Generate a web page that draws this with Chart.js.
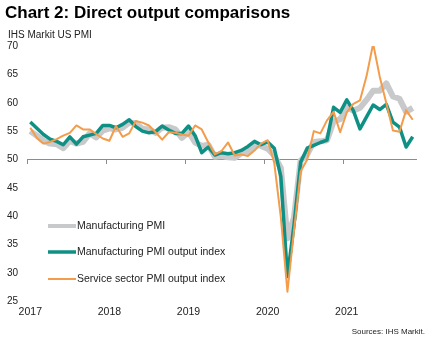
<!DOCTYPE html>
<html>
<head>
<meta charset="utf-8">
<script src="https://cdn.jsdelivr.net/npm/chart.js@4.4.1/dist/chart.umd.min.js"></script>
<style>
  html, body { margin: 0; padding: 0; background: #fff; }
  #wrap { position: relative; width: 436px; height: 342px; }
</style>
</head>
<body>
<div id="wrap"><canvas id="chart" width="436" height="342"></canvas></div>
<script>
// chart texts
var chartTitle = 'Chart 2: Direct output comparisons';
var unitLabel = 'IHS Markit US PMI';
var sourceText = 'Sources: IHS Markit.';

// monthly categories, Jan 2017 - Nov 2021
var years = ['2017', '2018', '2019', '2020', '2021'];
var monthNames = ['Jan', 'Feb', 'Mar', 'Apr', 'May', 'Jun', 'Jul', 'Aug', 'Sep', 'Oct', 'Nov', 'Dec'];
var months = [];
years.forEach(function (y) {
    monthNames.forEach(function (m) { months.push(m + ' ' + y); });
});
months = months.slice(0, 59);

var seriesNames = ['Manufacturing PMI', 'Manufacturing PMI output index', 'Service sector PMI output index'];

var mfgPmi = [
    55.0, 54.2, 53.3, 52.8, 52.7, 52.0, 53.3, 52.8, 53.1, 54.6, 53.9, 55.1,
    55.5, 55.3, 55.6, 56.5, 56.4, 55.4, 55.3, 54.7, 55.6, 55.7, 55.3, 53.8,
    54.9, 53.0, 52.4, 52.6, 50.5, 50.6, 50.4, 50.3, 51.1, 51.3, 52.6, 52.4,
    51.9, 50.7, 48.5, 36.1, 39.8, 49.8, 50.9, 53.1, 53.2, 53.4, 56.7, 57.1,
    59.2, 58.6, 59.1, 60.5, 62.1, 62.1, 63.4, 61.1, 60.7, 58.4, 59.1
];
var mfgOutput = [
    56.6, 55.5, 54.4, 53.6, 53.2, 52.6, 54.0, 52.7, 54.0, 54.3, 54.6, 56.0,
    56.0, 55.6, 56.2, 57.0, 55.8, 55.0, 54.7, 54.9, 55.9, 55.2, 54.6, 54.6,
    55.9, 54.2, 51.2, 52.2, 50.8, 51.2, 51.0, 51.2, 51.6, 52.3, 53.2, 52.6,
    53.1, 52.0, 47.0, 29.4, 38.5, 49.5, 52.0, 52.5, 53.0, 53.4, 59.2, 58.3,
    60.5, 58.6, 55.4, 57.5, 59.6, 58.8, 59.7, 56.6, 55.7, 52.2, 54.0
];
var servicesOutput = [
    55.6, 53.8, 52.8, 53.1, 53.6, 54.2, 54.7, 56.0, 55.3, 55.3, 54.5, 53.7,
    53.3, 55.9, 54.0, 54.6, 56.8, 56.5, 56.0, 54.8, 53.5, 54.8, 54.7, 54.4,
    54.2, 56.0, 55.3, 53.0, 50.9, 51.5, 53.0, 50.7, 50.9, 50.6, 51.6, 52.8,
    53.4, 49.4, 39.8, 26.7, 37.5, 47.9, 50.0, 55.0, 54.6, 56.9, 58.4, 54.8,
    58.3, 59.8, 60.4, 64.7, 70.4, 64.6, 59.9, 55.1, 54.9, 58.7, 57.0
];

var FONT = '"Liberation Sans", Arial, sans-serif';

// title, unit label, sources and the legend inside the plot
var textPlugin = {
    id: 'texts',
    afterDraw: function (chart) {
        var ctx = chart.ctx;
        ctx.save();
        ctx.textBaseline = 'alphabetic';
        ctx.fillStyle = '#000';
        ctx.font = 'bold 17px ' + FONT;
        ctx.fillText(chartTitle, 5, 18);
        ctx.fillStyle = '#222';
        ctx.font = '10px ' + FONT;
        ctx.fillText(unitLabel, 8, 38);
        ctx.textAlign = 'right';
        ctx.font = '8px ' + FONT;
        ctx.fillText(sourceText, 425, 334);

        ctx.textAlign = 'left';
        ctx.textBaseline = 'middle';
        ctx.font = '10.5px ' + FONT;
        var legendY = [226, 252, 279];
        chart.data.datasets.forEach(function (ds, i) {
            var y = legendY[i];
            ctx.strokeStyle = ds.borderColor;
            ctx.lineWidth = Math.min(ds.borderWidth, 4);
            ctx.lineCap = 'butt';
            ctx.beginPath();
            ctx.moveTo(48, y);
            ctx.lineTo(76, y);
            ctx.stroke();
            ctx.fillStyle = '#222';
            ctx.fillText(ds.label, 77, y);
        });
        ctx.restore();
    }
};

var chart = new Chart(document.getElementById('chart'), {
    type: 'line',
    plugins: [textPlugin],
    data: {
        labels: months,
        datasets: [{
            label: seriesNames[0],
            data: mfgPmi,
            borderColor: '#c8c9cb',
            borderWidth: 6,
            order: 3
        }, {
            label: seriesNames[1],
            data: mfgOutput,
            borderColor: '#0f9084',
            borderWidth: 3.5,
            order: 2
        }, {
            label: seriesNames[2],
            data: servicesOutput,
            borderColor: '#f39c4b',
            borderWidth: 2,
            order: 1
        }]
    },
    options: {
        responsive: false,
        animation: false,
        layout: { padding: { top: 46, left: 7, right: 20, bottom: 20 } },
        elements: {
            line: { tension: 0, borderJoinStyle: 'round', borderCapStyle: 'butt' },
            point: { radius: 0 }
        },
        plugins: {
            legend: { display: false },
            tooltip: { enabled: false }
        },
        scales: {
            x: {
                type: 'category',
                position: { y: 50 },
                offset: true,
                ticks: { display: false },
                border: { display: true, color: '#8c8c8c', width: 1 },
                grid: {
                    offset: true,
                    drawOnChartArea: false,
                    drawTicks: true,
                    tickLength: 4,
                    lineWidth: 1,
                    color: function (c) { return c.index % 12 === 0 ? '#8c8c8c' : 'rgba(0,0,0,0)'; }
                }
            },
            x2: {
                type: 'category',
                position: 'bottom',
                offset: true,
                border: { display: false },
                grid: { display: false, drawTicks: false },
                ticks: {
                    autoSkip: false,
                    maxRotation: 0,
                    padding: 4,
                    color: '#222',
                    font: { family: FONT, size: 10.5 },
                    callback: function (value) {
                        var l = this.getLabelForValue(value);
                        return l.indexOf('Jan') === 0 ? l.slice(4) : '';
                    }
                }
            },
            y: {
                min: 25,
                max: 70,
                border: { display: false },
                grid: { display: false, drawTicks: false },
                afterFit: function (scale) { scale.width = 20; },
                ticks: {
                    stepSize: 5,
                    padding: 9,
                    color: '#222',
                    font: { family: FONT, size: 10 }
                }
            }
        }
    }
});
</script>
</body>
</html>
